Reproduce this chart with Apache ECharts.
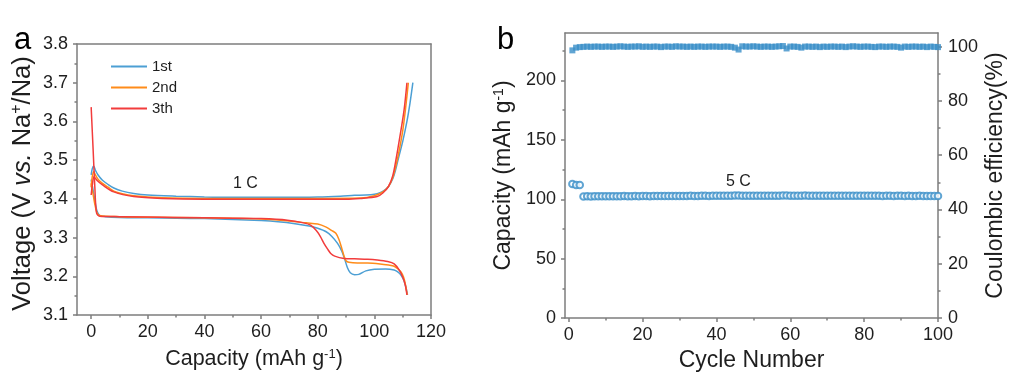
<!DOCTYPE html>
<html><head><meta charset="utf-8">
<script src="https://cdn.jsdelivr.net/npm/echarts@6/dist/echarts.min.js"></script>
<style>html,body{margin:0;padding:0;background:#fff}#c{width:1024px;height:379px}</style>
</head><body><div id="c"></div><script>
// ---------- Panel a: charge / discharge profiles ----------
const cycleNames = ['1st', '2nd', '3th'];

const c1ChargeX = [0, 0.4, 0.9, 1.5, 2.5, 4, 6, 8, 11, 15, 20, 30, 40, 50, 60, 70, 80, 88, 93, 97, 100, 102, 103.5, 105, 106.5, 107.5, 108.5, 110, 111.5, 112.6, 113.6];
const c1ChargeY = [3.462, 3.478, 3.485, 3.474, 3.461, 3.448, 3.437, 3.428, 3.420, 3.414, 3.410, 3.407, 3.405, 3.404, 3.404, 3.404, 3.405, 3.407, 3.409, 3.410, 3.412, 3.416, 3.422, 3.432, 3.452, 3.475, 3.505, 3.548, 3.600, 3.648, 3.700];
const c1DisX = [0, 0.5, 1.2, 2, 3, 5, 10, 20, 30, 40, 50, 60, 66, 72, 77, 80, 83, 85, 87, 88.5, 89.5, 90.5, 91.5, 93, 94.5, 97, 100, 104, 107, 108.5, 109.5, 110.5, 111.2, 111.7];
const c1DisY = [3.45, 3.43, 3.40, 3.37, 3.357, 3.354, 3.352, 3.351, 3.350, 3.349, 3.347, 3.344, 3.341, 3.336, 3.330, 3.324, 3.315, 3.303, 3.285, 3.265, 3.245, 3.222, 3.209, 3.204, 3.205, 3.214, 3.218, 3.219, 3.216, 3.210, 3.202, 3.188, 3.170, 3.152];

const c2ChargeX = [0, 0.4, 0.9, 1.5, 2.5, 4, 6, 8, 11, 15, 25, 40, 60, 80, 95, 100, 103, 105, 106.5, 107.5, 108.5, 110, 111, 112];
const c2ChargeY = [3.430, 3.458, 3.470, 3.462, 3.450, 3.440, 3.430, 3.420, 3.413, 3.408, 3.403, 3.401, 3.401, 3.401, 3.402, 3.408, 3.418, 3.432, 3.455, 3.482, 3.515, 3.575, 3.632, 3.700];
const c2DisX = [0, 0.5, 1.2, 2, 3, 10, 30, 50, 60, 70, 76, 80, 83, 85, 86.4, 87.5, 88.5, 89.3, 90, 91, 94, 97.6, 102, 105, 107, 108.5, 109.4, 110.3, 111, 111.6];
const c2DisY = [3.44, 3.42, 3.39, 3.365, 3.357, 3.354, 3.352, 3.350, 3.348, 3.343, 3.338, 3.335, 3.327, 3.318, 3.311, 3.295, 3.272, 3.252, 3.240, 3.236, 3.234, 3.234, 3.232, 3.229, 3.226, 3.218, 3.211, 3.198, 3.178, 3.152];

const c3ChargeX = [0, 0.5, 1, 2, 4, 8, 15, 25, 40, 60, 80, 90, 95, 101, 103, 105, 106.5, 107.6, 109, 110.5, 111.5];
const c3ChargeY = [3.410, 3.440, 3.457, 3.448, 3.436, 3.418, 3.406, 3.401, 3.399, 3.399, 3.399, 3.399, 3.401, 3.406, 3.415, 3.432, 3.460, 3.500, 3.560, 3.630, 3.700];
const c3DisX = [0, 0.7, 1.3, 1.9, 3, 10, 30, 50, 60, 69.3, 75, 77.5, 79.5, 81, 82.2, 83.5, 84.6, 86, 89.3, 93, 97.6, 101, 104.7, 107, 108.8, 110, 110.9, 111.5];
const c3DisY = [3.637, 3.526, 3.430, 3.364, 3.355, 3.354, 3.352, 3.350, 3.349, 3.345, 3.338, 3.332, 3.318, 3.302, 3.285, 3.270, 3.259, 3.252, 3.246, 3.245, 3.244, 3.242, 3.238, 3.232, 3.216, 3.198, 3.178, 3.152];

const aXTicks = [0, 20, 40, 60, 80, 100, 120];
const aXMinor = [10, 30, 50, 70, 90, 110];
const aYTicks = [3.1, 3.2, 3.3, 3.4, 3.5, 3.6, 3.7, 3.8];
const aYMinor = [3.15, 3.25, 3.35, 3.45, 3.55, 3.65, 3.75];

// ---------- Panel b: cycling at 5 C ----------
const cycles = [
  1, 2, 3, 4, 5, 6, 7, 8, 9, 10,
  11, 12, 13, 14, 15, 16, 17, 18, 19, 20,
  21, 22, 23, 24, 25, 26, 27, 28, 29, 30,
  31, 32, 33, 34, 35, 36, 37, 38, 39, 40,
  41, 42, 43, 44, 45, 46, 47, 48, 49, 50,
  51, 52, 53, 54, 55, 56, 57, 58, 59, 60,
  61, 62, 63, 64, 65, 66, 67, 68, 69, 70,
  71, 72, 73, 74, 75, 76, 77, 78, 79, 80,
  81, 82, 83, 84, 85, 86, 87, 88, 89, 90,
  91, 92, 93, 94, 95, 96, 97, 98, 99, 100];
const capacity = [
  112.8, 112.0, 111.9, 102.4, 102.5, 102.4, 102.5, 102.5, 102.6, 102.5,
  102.6, 102.6, 102.5, 102.6, 102.7, 102.6, 102.6, 102.7, 102.6, 102.7,
  102.7, 102.6, 102.7, 102.8, 102.7, 102.7, 102.8, 102.7, 102.8, 102.8,
  102.7, 102.8, 102.9, 102.8, 102.8, 102.9, 102.9, 102.8, 102.9, 102.9,
  103.0, 102.9, 102.9, 103.0, 103.1, 103.2, 103.0, 102.9, 103.0, 103.0,
  102.9, 103.0, 103.0, 102.9, 103.0, 103.0, 102.9, 103.1, 103.2, 102.9,
  103.0, 102.9, 103.0, 103.1, 102.9, 103.0, 103.0, 102.9, 103.0, 102.9,
  103.0, 103.0, 102.9, 103.0, 102.9, 103.0, 103.0, 102.9, 102.9, 103.0,
  102.9, 102.9, 103.0, 102.9, 102.8, 102.9, 102.9, 102.8, 102.9, 102.9,
  102.8, 102.9, 102.8, 102.8, 102.9, 102.8, 102.8, 102.8, 102.7, 102.8];
const efficiency = [
  98.6, 99.6, 99.8, 99.9, 100.0, 99.9, 100.0, 100.0, 99.9, 100.0,
  100.0, 99.9, 100.0, 100.1, 100.0, 99.9, 100.0, 100.0, 100.1, 99.9,
  100.0, 99.9, 100.0, 100.0, 99.8, 100.0, 100.0, 99.9, 100.1, 100.0,
  100.0, 99.9, 100.0, 99.9, 100.0, 100.0, 99.9, 100.0, 100.0, 100.0,
  99.9, 100.0, 100.0, 99.9, 99.6, 98.9, 100.1, 100.0, 100.0, 100.1,
  100.0, 99.9, 100.0, 100.0, 99.9, 100.0, 100.1, 100.2, 99.3, 100.0,
  100.0, 99.9, 99.6, 100.0, 100.0, 99.9, 100.0, 99.8, 100.0, 99.9,
  100.0, 100.0, 99.9, 100.0, 99.8, 100.0, 100.1, 100.0, 99.9, 100.0,
  100.0, 99.9, 99.8, 100.0, 100.0, 99.9, 100.0, 100.0, 99.9, 99.6,
  100.0, 99.9, 100.0, 100.0, 99.9, 100.0, 99.8, 100.0, 99.9, 99.8];

const bXTicks = [0, 20, 40, 60, 80, 100];
const bXMinor = [10, 30, 50, 70, 90];
const bCapTicks = [0, 50, 100, 150, 200];
const bCapMinor = [25, 75, 125, 175, 225];
const bCeTicks = [0, 20, 40, 60, 80, 100];
const bCeMinor = [10, 30, 50, 70, 90];

// ---------- styling ----------
const FONT = 'Arial, "Liberation Sans", sans-serif';
const AXIS_COLOR = '#7d7d7d';
const TEXT_COLOR = '#1e1e1e';
const BLUE = '#4c9fd4', ORANGE = '#ff8c1a', RED = '#f23c3c';
const MARK = '#3a8fc8';

function pairs(xs, ys) { return xs.map((x, i) => [x, ys[i]]); }
const lineStyle = { color: AXIS_COLOR, width: 1.5 };
function richFor(size) {
  return {
    n: { fontSize: size, fontFamily: FONT, color: TEXT_COLOR },
    i: { fontSize: size, fontFamily: FONT, color: TEXT_COLOR, fontStyle: 'italic' },
    sup: { fontSize: Math.round(size * 0.62), fontFamily: FONT, color: TEXT_COLOR, verticalAlign: 'top', padding: [0, 0, Math.round(size * 0.42), 0] }
  };
}

function majorAxis(o) {
  return Object.assign({
    type: 'value', min: o.min, max: o.max, position: o.position,
    axisLine: { show: true, onZero: false, lineStyle },
    axisTick: { show: true, inside: false, length: 4, customValues: o.ticks, lineStyle },
    axisLabel: { show: true, customValues: o.ticks, fontSize: 18, fontFamily: FONT, color: TEXT_COLOR, margin: o.margin },
    splitLine: { show: false }
  }, o.extra || {});
}
function minorAxis(o) {
  return {
    type: 'value', min: o.min, max: o.max, position: o.position, gridIndex: o.gridIndex,
    axisLine: { show: false, onZero: false },
    axisTick: { show: true, inside: false, length: 2.5, customValues: o.ticks, lineStyle },
    axisLabel: { show: false }, splitLine: { show: false }
  };
}
function frameAxis(o) {
  return {
    type: 'value', min: o.min, max: o.max, position: o.position, gridIndex: o.gridIndex,
    axisLine: { show: true, onZero: false, lineStyle },
    axisTick: { show: false }, axisLabel: { show: false }, splitLine: { show: false }
  };
}

const option = {
  animation: false,
  backgroundColor: '#fff',
  textStyle: { fontFamily: FONT },
  grid: [
    { left: 77, right: 593, top: 44, bottom: 64 },
    { left: 565, right: 86, top: 33, bottom: 61 }
  ],
  legend: {
    data: cycleNames, orient: 'vertical', left: 106, top: 53, icon: 'rect',
    itemWidth: 36, itemHeight: 2, itemGap: 4,
    textStyle: { fontSize: 15, lineHeight: 17, fontFamily: FONT, color: TEXT_COLOR }
  },
  xAxis: [
    majorAxis({ min: -5, max: 120, position: 'bottom', ticks: aXTicks, margin: 8, extra: {
      gridIndex: 0, name: '{n|Capacity (mAh g}{sup|-1}{n|)}', nameLocation: 'middle', nameGap: 33,
      nameTextStyle: { rich: richFor(21.5) } } }),
    minorAxis({ min: -5, max: 120, position: 'bottom', ticks: aXMinor, gridIndex: 0 }),
    frameAxis({ min: -5, max: 120, position: 'top', gridIndex: 0 }),
    majorAxis({ min: -1, max: 100, position: 'bottom', ticks: bXTicks, margin: 8, extra: {
      gridIndex: 1, name: 'Cycle Number', nameLocation: 'middle', nameGap: 30,
      nameTextStyle: { fontSize: 23, fontFamily: FONT, color: TEXT_COLOR } } }),
    minorAxis({ min: -1, max: 100, position: 'bottom', ticks: bXMinor, gridIndex: 1 }),
    frameAxis({ min: -1, max: 100, position: 'top', gridIndex: 1 })
  ],
  yAxis: [
    majorAxis({ min: 3.1, max: 3.8, position: 'left', ticks: aYTicks, margin: 9, extra: {
      gridIndex: 0, name: '{n|Voltage (V }{i|vs.}{n| Na}{sup|+}{n|/Na)}', nameLocation: 'middle', nameGap: 41, nameRotate: 90,
      nameTextStyle: { rich: richFor(25.5), padding: [0, 8, 0, 0] } } }),
    minorAxis({ min: 3.1, max: 3.8, position: 'left', ticks: aYMinor, gridIndex: 0 }),
    frameAxis({ min: 3.1, max: 3.8, position: 'right', gridIndex: 0 }),
    majorAxis({ min: 0, max: 240, position: 'left', ticks: bCapTicks, margin: 9, extra: {
      gridIndex: 1, name: '{n|Capacity (mAh g}{sup|-1}{n|)}', nameLocation: 'middle', nameGap: 49, nameRotate: 90,
      nameTextStyle: { rich: richFor(23) } } }),
    minorAxis({ min: 0, max: 240, position: 'left', ticks: bCapMinor, gridIndex: 1 }),
    majorAxis({ min: 0, max: 105, position: 'right', ticks: bCeTicks, margin: 10, extra: {
      gridIndex: 1, name: 'Coulombic efficiency(%)', nameLocation: 'middle', nameGap: 46, nameRotate: 90,
      nameTextStyle: { fontSize: 23, fontFamily: FONT, color: TEXT_COLOR } } }),
    minorAxis({ min: 0, max: 105, position: 'right', ticks: bCeMinor, gridIndex: 1 })
  ],
  series: [
    { name: cycleNames[0], type: 'line', xAxisIndex: 0, yAxisIndex: 0, data: pairs(c1ChargeX, c1ChargeY), symbol: 'none', smooth: 0.3, lineStyle: { color: BLUE, width: 1.5 }, itemStyle: { color: BLUE } },
    { name: cycleNames[0], type: 'line', xAxisIndex: 0, yAxisIndex: 0, data: pairs(c1DisX, c1DisY), symbol: 'none', smooth: 0.3, lineStyle: { color: BLUE, width: 1.5 }, itemStyle: { color: BLUE } },
    { name: cycleNames[1], type: 'line', xAxisIndex: 0, yAxisIndex: 0, data: pairs(c2ChargeX, c2ChargeY), symbol: 'none', smooth: 0.3, lineStyle: { color: ORANGE, width: 1.5 }, itemStyle: { color: ORANGE } },
    { name: cycleNames[1], type: 'line', xAxisIndex: 0, yAxisIndex: 0, data: pairs(c2DisX, c2DisY), symbol: 'none', smooth: 0.3, lineStyle: { color: ORANGE, width: 1.5 }, itemStyle: { color: ORANGE } },
    { name: cycleNames[2], type: 'line', xAxisIndex: 0, yAxisIndex: 0, data: pairs(c3ChargeX, c3ChargeY), symbol: 'none', smooth: 0.3, lineStyle: { color: RED, width: 1.5 }, itemStyle: { color: RED } },
    { name: cycleNames[2], type: 'line', xAxisIndex: 0, yAxisIndex: 0, data: pairs(c3DisX, c3DisY), symbol: 'none', smooth: 0.3, lineStyle: { color: RED, width: 1.5 }, itemStyle: { color: RED } },
    { name: 'Capacity', type: 'scatter', xAxisIndex: 3, yAxisIndex: 3, data: pairs(cycles, capacity), symbol: 'emptyCircle', symbolSize: 6.5, itemStyle: { color: MARK, borderColor: MARK, borderWidth: 1.4 } },
    { name: 'Efficiency', type: 'scatter', xAxisIndex: 3, yAxisIndex: 5, data: pairs(cycles, efficiency), symbol: 'rect', symbolSize: 6, itemStyle: { color: MARK } }
  ],
  graphic: [
    { type: 'text', left: 14, top: 25, style: { text: 'a', font: '31px ' + FONT, fill: '#000' } },
    { type: 'text', left: 497, top: 25, style: { text: 'b', font: '31px ' + FONT, fill: '#000' } },
    { type: 'text', left: 233, top: 176, style: { text: '1 C', font: '16px ' + FONT, fill: TEXT_COLOR } },
    { type: 'text', left: 726, top: 174, style: { text: '5 C', font: '16px ' + FONT, fill: TEXT_COLOR } }
  ]
};
const chart = echarts.init(document.getElementById('c'), null, { renderer: 'canvas' });
chart.setOption(option);
</script></body></html>
